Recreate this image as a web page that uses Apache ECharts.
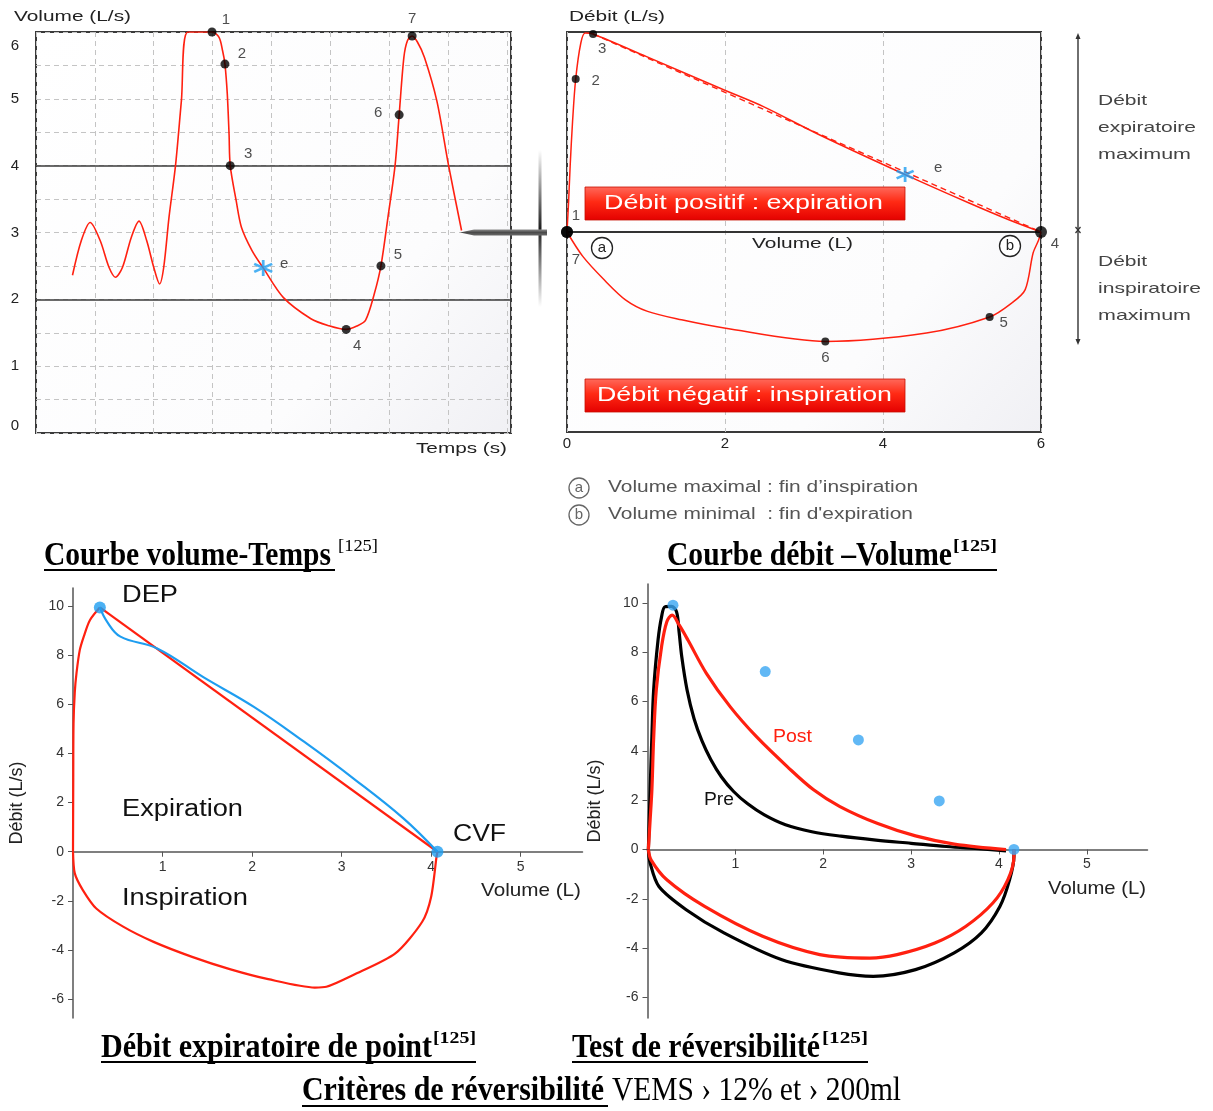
<!DOCTYPE html>
<html><head><meta charset="utf-8">
<script src="https://cdn.jsdelivr.net/npm/echarts@6/dist/echarts.min.js"></script>
<style>html,body{margin:0;padding:0;background:#fff}#chart{width:1213px;height:1111px}</style>
</head><body><div id="chart"></div>
<script>
// ================= DATA =================
// Panel 1 : Courbe volume-Temps  (x = temps, y = volume)
const vtCurve = [[0.62,2.36],[0.77,2.88],[0.92,3.15],[1.09,2.88],[1.24,2.48],[1.35,2.33],[1.47,2.48],[1.62,2.93],[1.75,3.17],[1.88,2.88],[2.0,2.48],[2.10,2.23],[2.17,2.48],[2.26,3.23],[2.37,4.0],[2.47,4.97],[2.58,6.0],[2.99,6.0],[3.11,5.92],[3.17,5.72],[3.21,5.52],[3.25,5.07],[3.28,4.47],[3.30,4.0],[3.40,3.48],[3.49,3.08],[3.67,2.73],[3.86,2.47],[4.20,2.03],[4.67,1.71],[4.96,1.61],[5.27,1.55],[5.45,1.6],[5.60,1.69],[5.75,2.09],[5.86,2.5],[5.98,3.23],[6.10,4.0],[6.17,4.76],[6.25,5.62],[6.31,5.87],[6.39,5.94],[6.48,5.85],[6.60,5.62],[6.81,4.97],[7.01,4.0],[7.23,3.03]];
const vtPoints = [[2.99,6.0],[3.21,5.52],[3.30,4.0],[5.27,1.55],[5.86,2.5],[6.17,4.76],[6.39,5.94]];
const vtPointLabels = ['1','2','3','4','5','6','7'];
const vtStar = [[3.86,2.47]];
const vtYTicks = [0,1,2,3,4,5,6];
const vtRefLines = [2,4];

// Panel 2 : Courbe débit-Volume
const fvExp = [[0,0],[0.02,1.5],[0.04,3.3],[0.07,5.5],[0.11,7.65],[0.175,9.45],[0.23,9.95],[0.33,9.9],[1.0,8.78],[1.99,7.1],[2.48,6.28],[3.2,4.85],[4.28,2.87],[5.09,1.45],[5.6,0.6],[6,0]];
const fvInsp = [[6,0],[5.97,-0.4],[5.9,-1.05],[5.8,-2.88],[5.63,-3.55],[5.35,-4.25],[4.55,-5.05],[3.27,-5.47],[1.99,-4.8],[1.45,-4.39],[1.02,-3.97],[0.74,-3.39],[0.47,-2.39],[0.2,-1.22],[0,0]];
const fvDashed = [[0.33,9.9],[6,0]];
const fvPoints = [[0,0],[0.11,7.65],[0.33,9.9],[6,0],[5.35,-4.25],[3.27,-5.47],[0,0]];
const fvPointLabels = ['1','2','3','4','5','6','7'];
const fvStar = [[4.28,2.87]];
const fvXTicks = [0,2,4,6];

// Panel 3 : Débit expiratoire de pointe
const depRise = [[0,0],[0.003,3],[0.006,5.2],[0.02,6.5],[0.04,7.3],[0.075,8.2],[0.12,8.76],[0.19,9.44],[0.30,9.95]];
const depStraight = [[0.30,9.95],[4.07,0]];
const depBlue = [[0.30,9.95],[0.38,9.37],[0.53,8.76],[0.94,8.28],[1.46,7.1],[2.02,5.9],[2.58,4.48],[3.13,2.99],[3.69,1.36],[4.07,0]];
const depInsp = [[4.07,0],[4.06,-0.2],[4.0,-1.83],[3.9,-2.85],[3.6,-4.14],[3.13,-5.02],[2.83,-5.5],[2.70,-5.53],[2.18,-5.19],[1.76,-4.79],[1.33,-4.28],[0.9,-3.67],[0.56,-3.05],[0.26,-2.31],[0.11,-1.56],[0.02,-0.88],[0,0]];
const depDots = [[0.30,9.95],[4.07,0]];

// Panel 4 : Test de réversibilité
const revPreExp = [[0.01,0],[0.02,1.2],[0.03,2.42],[0.05,4.6],[0.07,6.47],[0.12,8.49],[0.16,9.43],[0.2,9.84],[0.27,9.85],[0.33,9.64],[0.36,8.8],[0.39,7.81],[0.45,6.47],[0.53,5.3],[0.62,4.4],[0.72,3.65],[0.84,2.95],[0.98,2.35],[1.14,1.85],[1.33,1.4],[1.57,1.0],[1.87,0.72],[2.2,0.54],[2.6,0.38],[3.0,0.25],[3.4,0.12],[3.8,0.02],[4.08,-0.06]];
const revPreInsp = [[4.17,0],[4.17,-0.28],[4.12,-1.23],[4.01,-2.31],[3.8,-3.38],[3.49,-4.19],[3.05,-4.87],[2.57,-5.14],[2.18,-5.0],[1.53,-4.47],[0.87,-3.38],[0.44,-2.44],[0.13,-1.5],[0.03,-0.55],[0.01,0]];
const revPostExp = [[0.01,0],[0.03,1.2],[0.05,2.42],[0.07,4.5],[0.1,6.47],[0.16,8.22],[0.22,9.23],[0.28,9.5],[0.36,9.1],[0.46,8.49],[0.67,7.14],[0.94,5.79],[1.24,4.57],[1.59,3.36],[1.89,2.42],[2.19,1.74],[2.62,1.05],[3.05,0.55],[3.49,0.22],[4.08,0]];
const revPostInsp = [[4.17,0],[4.17,-0.28],[4.1,-1.23],[3.93,-2.17],[3.62,-3.12],[3.27,-3.79],[2.84,-4.26],[2.53,-4.4],[1.96,-4.26],[1.31,-3.52],[0.65,-2.31],[0.22,-1.23],[0.04,-0.42],[0.01,0]];
const revDots = [[0.29,9.9],[1.34,7.21],[2.4,4.44],[3.32,1.97],[4.17,0]];

const bottomYTicks = [-6,-4,-2,0,2,4,6,8,10];
const bottomXTicks = [1,2,3,4,5];

// ================= LAYOUT / STYLE =================
const FONT = 'Liberation Sans';
const SERIF = 'Liberation Serif';
const RED = '#ff2010';
const BLUE = '#1e9df0';
const mctx = document.createElement('canvas').getContext('2d');
function txt(str, left, cy, size, width, opt) {
  opt = opt || {};
  const font = (opt.style || 'normal') + ' ' + (opt.weight || 'normal') + ' ' + size + 'px "' + (opt.family || FONT) + '"';
  mctx.font = font;
  const w = mctx.measureText(str).width;
  const sx = width ? width / w : (opt.sx || 1);
  return { type: 'text', x: left, y: cy, scaleX: sx, silent: true, z: 100,
    style: { text: str, font: font, fill: opt.color || '#222', align: 'left', verticalAlign: 'middle' } };
}
function hline(x1, x2, y, w, color) {
  return { type: 'line', silent: true, z: 100, shape: { x1: x1, y1: y, x2: x2, y2: y }, style: { stroke: color || '#000', lineWidth: w || 2 } };
}
function circLetter(cx, cy, r, ch, color) {
  return [
    { type: 'circle', silent: true, z: 100, shape: { cx: cx, cy: cy, r: r }, style: { fill: '#fff', stroke: color, lineWidth: 1.3 } },
    { type: 'text', silent: true, z: 101, x: cx, y: cy, style: { text: ch, font: '15px "' + FONT + '"', fill: color, align: 'center', verticalAlign: 'middle' } }
  ];
}
function redBox(x, y, w, h, label, tl, tw) {
  return [
    { type: 'rect', silent: true, z: 90, shape: { x: x, y: y, width: w, height: h },
      style: { fill: new echarts.graphic.LinearGradient(0, 0, 0, 1, [
        { offset: 0, color: '#ff6a5c' }, { offset: 0.45, color: '#ff2a14' }, { offset: 1, color: '#e40000' }]),
        stroke: '#c81000', lineWidth: 0.8 } },
    txt(label, tl, y + h / 2, 21, tw, { color: '#fff' })
  ];
}
const panelBg = new echarts.graphic.LinearGradient(0, 0, 1, 1, [
  { offset: 0, color: '#ffffff' }, { offset: 0.7, color: '#fcfcfd' }, { offset: 1, color: '#f0f0f4' }]);
const asterisk = 'path://M0,-10L0,10M-8.66,-5L8.66,5M-8.66,5L8.66,-5';

const vtLabelOffsets = [[14,-12],[17,-10],[18,-12],[11,16],[17,-11],[-21,-2],[0,-17]];
const fvLabelOffsets = [[9,-16],[20,2],[9,15],[14,12],[14,6],[0,16],[9,28]];
const fvPointSizes = [12,8,8,12,8,8,12];

function pointItems(pts, names, offs, sizes) {
  return pts.map((p, i) => ({ value: p, name: names[i], symbolSize: sizes ? sizes[i] : 9, label: { offset: offs[i] } }));
}
const pointLabel = { show: true, position: 'inside', formatter: '{b}', fontSize: 15, color: '#222', fontFamily: FONT };

const graphics = [];
// top axis titles
graphics.push(txt('Volume (L/s)', 14, 17, 15, 117, { color: '#222' }));
graphics.push(txt('Temps (s)', 416, 449, 15, 91, { color: '#222' }));
graphics.push(txt('Débit (L/s)', 569, 17, 15, 96, { color: '#222' }));
graphics.push(txt('Volume (L)', 752, 244, 15, 101, { color: '#222' }));
// circled letters in panel 2
graphics.push(...circLetter(602, 248, 10.5, 'a', '#222'));
graphics.push(...circLetter(1010, 246, 10.5, 'b', '#222'));
// red boxes
graphics.push(...redBox(585, 187, 320, 33, 'Débit positif : expiration', 604, 279));
graphics.push(...redBox(585, 379, 320, 33, 'Débit négatif : inspiration', 597, 295));
// connector between panels
graphics.push({ type: 'rect', silent: true, z: 95, shape: { x: 538.5, y: 150, width: 3, height: 157 },
  style: { fill: new echarts.graphic.LinearGradient(0, 0, 0, 1, [
    { offset: 0, color: 'rgba(40,40,40,0)' }, { offset: 0.5, color: 'rgba(30,30,30,1)' }, { offset: 1, color: 'rgba(40,40,40,0)' }]) } });
graphics.push({ type: 'polygon', silent: true, z: 96,
  shape: { points: [[460, 232.5], [474, 229.5], [547, 229.5], [547, 235.5], [474, 235.5]] },
  style: { fill: new echarts.graphic.LinearGradient(0, 0, 0, 1, [
    { offset: 0, color: '#8a8a8a' }, { offset: 0.5, color: '#4a4a4a' }, { offset: 1, color: '#6a6a6a' }]) } });
// right annotation
graphics.push({ type: 'line', silent: true, z: 100, shape: { x1: 1078, y1: 36, x2: 1078, y2: 342 }, style: { stroke: '#333', lineWidth: 1.4 } });
graphics.push({ type: 'polygon', silent: true, z: 100, shape: { points: [[1078, 33], [1075.5, 39], [1080.5, 39]] }, style: { fill: '#333' } });
graphics.push({ type: 'polygon', silent: true, z: 100, shape: { points: [[1078, 345], [1075.5, 339], [1080.5, 339]] }, style: { fill: '#333' } });
graphics.push({ type: 'polyline', silent: true, z: 100, shape: { points: [[1075.5, 227], [1080.5, 233]] }, style: { stroke: '#333', lineWidth: 1.2 } });
graphics.push({ type: 'polyline', silent: true, z: 100, shape: { points: [[1080.5, 227], [1075.5, 233]] }, style: { stroke: '#333', lineWidth: 1.2 } });
[['Débit', 101, 49], ['expiratoire', 128, 98], ['maximum', 155, 93], ['Débit', 262, 49], ['inspiratoire', 289, 103], ['maximum', 316, 93]]
  .forEach(a => graphics.push(txt(a[0], 1098, a[1], 15, a[2], { color: '#444' })));
// legend of a / b
graphics.push(...circLetter(579, 488, 10, 'a', '#666'));
graphics.push(...circLetter(579, 515, 10, 'b', '#666'));
graphics.push(txt('Volume maximal : fin d\u2019inspiration', 608, 488, 16, 310, { color: '#555' }));
graphics.push(txt('Volume minimal  : fin d\'expiration', 608, 515, 16, 305, { color: '#555' }));
// bottom panel texts
graphics.push(txt('DEP', 122, 596, 23, 56, { color: '#111' }));
graphics.push(txt('Expiration', 122, 810, 23, 121, { color: '#111' }));
graphics.push(txt('Inspiration', 122, 899, 23, 126, { color: '#111' }));
graphics.push(txt('CVF', 453, 835, 23, 53, { color: '#111' }));
graphics.push(txt('Volume (L)', 481, 891, 19, 100, { color: '#222' }));
graphics.push(txt('Post', 773, 737, 18, 39, { color: RED }));
graphics.push(txt('Pre', 704, 800, 18, 30, { color: '#111' }));
graphics.push(txt('Volume (L)', 1048, 889, 19, 98, { color: '#222' }));
// captions
const capOpt = { family: SERIF, weight: 'bold', color: '#000' };
graphics.push(txt('Courbe volume-Temps', 44, 556, 34, 287, capOpt));
graphics.push(txt('[125]', 338, 547, 16, 40, { family: SERIF, color: '#000' }));
graphics.push(hline(44, 335, 570, 2));
graphics.push(txt('Courbe débit \u2013Volume', 667, 556, 34, 285, capOpt));
graphics.push(txt('[125]', 953, 547, 16, 44, { family: SERIF, weight: 'bold', color: '#000' }));
graphics.push(hline(667, 997, 570, 2));
graphics.push(txt('Débit expiratoire de point', 101, 1048, 34, 331, capOpt));
graphics.push(txt('[125]', 433, 1039, 16, 43, { family: SERIF, weight: 'bold', color: '#000' }));
graphics.push(hline(101, 476, 1062, 2));
graphics.push(txt('Test de réversibilité', 572, 1048, 34, 248, capOpt));
graphics.push(txt('[125]', 822, 1039, 16, 46, { family: SERIF, weight: 'bold', color: '#000' }));
graphics.push(hline(572, 868, 1062, 2));
graphics.push(txt('Critères de réversibilité', 302, 1091, 34, 302, capOpt));
graphics.push(txt('VEMS \u203a 12% et \u203a 200ml', 612, 1091, 34, 289, { family: SERIF, color: '#000' }));
graphics.push(hline(302, 608, 1106, 2));

const bottomGrids = [
  { left: 73, top: 588, width: 509.5, height: 430, ymin: -6.77, ymax: 10.74 },
  { left: 647.5, top: 584, width: 500, height: 434, ymin: -6.83, ymax: 10.76 }
];
const bottomYAxis = (gi, g, gap) => ({
  gridIndex: gi, type: 'value', min: g.ymin, max: g.ymax,
  axisLine: { show: true, lineStyle: { color: '#555', width: 1.5 } },
  axisTick: { show: true, customValues: bottomYTicks, length: 5, lineStyle: { color: '#555' } },
  axisLabel: { customValues: bottomYTicks, fontSize: 14, color: '#333', margin: 9 },
  splitLine: { show: false },
  name: 'Débit (L/s)', nameLocation: 'middle', nameGap: gap, nameRotate: 90,
  nameTextStyle: { fontSize: 18, color: '#222' }
});
// x axis sits on flow = 0 : shift it up from the grid bottom by the zero position
const bottomXAxis = (gi, g) => ({
  gridIndex: gi, type: 'value', min: 0, max: 5.69, position: 'bottom',
  offset: -g.height * (0 - g.ymin) / (g.ymax - g.ymin),
  axisLine: { show: true, onZero: false, lineStyle: { color: '#555', width: 1.5 } },
  axisTick: { show: true, customValues: bottomXTicks, length: 5, lineStyle: { color: '#555' } },
  axisLabel: { customValues: bottomXTicks, fontSize: 14, color: '#333', margin: 8 },
  splitLine: { show: false }
});

const option = {
  animation: false,
  backgroundColor: '#ffffff',
  textStyle: { fontFamily: FONT },
  grid: [
    { left: 36, top: 32, width: 475, height: 401, show: true, borderColor: '#3a3a3a', borderWidth: 2, backgroundColor: panelBg },
    { left: 567, top: 32, width: 474, height: 400, show: true, borderColor: '#3a3a3a', borderWidth: 2, backgroundColor: panelBg },
    { left: bottomGrids[0].left, top: bottomGrids[0].top, width: bottomGrids[0].width, height: bottomGrids[0].height },
    { left: bottomGrids[1].left, top: bottomGrids[1].top, width: bottomGrids[1].width, height: bottomGrids[1].height }
  ],
  xAxis: [
    { gridIndex: 0, type: 'value', min: 0, max: 8.07, interval: 1,
      axisLine: { show: false }, axisTick: { show: false }, axisLabel: { show: false },
      splitLine: { show: true, lineStyle: { type: [5, 4], color: '#c4c4c4', width: 1 } } },
    { gridIndex: 1, type: 'value', min: 0, max: 6, interval: 2,
      axisLine: { show: false }, axisTick: { show: false },
      axisLabel: { show: true, customValues: fvXTicks, fontSize: 15, color: '#222', margin: 4 },
      splitLine: { show: true, lineStyle: { type: [5, 4], color: '#c4c4c4', width: 1 } } },
    bottomXAxis(2, bottomGrids[0]),
    bottomXAxis(3, bottomGrids[1])
  ],
  yAxis: [
    { gridIndex: 0, type: 'value', min: 0, max: 6, interval: 0.5,
      axisLine: { show: false }, axisTick: { show: false },
      axisLabel: { show: true, customValues: vtYTicks, fontSize: 15, color: '#222', margin: 17,
        verticalAlignMaxLabel: 'top', verticalAlignMinLabel: 'bottom',
        formatter: v => (v === 6 ? '{t|6}' : String(v)),
        rich: { t: { fontSize: 15, color: '#222', padding: [6, 0, 0, 0] } } },
      splitLine: { show: true, lineStyle: { type: [5, 4], color: '#c4c4c4', width: 1 } } },
    { gridIndex: 1, type: 'value', min: -10, max: 10,
      axisLine: { show: false }, axisTick: { show: false }, axisLabel: { show: false }, splitLine: { show: false } },
    bottomYAxis(2, bottomGrids[0], 47),
    bottomYAxis(3, bottomGrids[1], 43)
  ],
  series: [
    // ---- panel 1
    { type: 'line', xAxisIndex: 0, yAxisIndex: 0, data: vtCurve, smooth: 0.3, symbol: 'none',
      lineStyle: { color: RED, width: 1.6 }, z: 5,
      markLine: { silent: true, symbol: ['none', 'none'], label: { show: false },
        lineStyle: { color: '#3a3a3a', width: 1.5, type: 'solid' }, emphasis: { disabled: true },
        data: vtRefLines.map(v => ({ yAxis: v })) } },
    { type: 'scatter', xAxisIndex: 0, yAxisIndex: 0, z: 6,
      data: pointItems(vtPoints, vtPointLabels, vtLabelOffsets),
      itemStyle: { color: '#000' }, label: pointLabel },
    { type: 'scatter', xAxisIndex: 0, yAxisIndex: 0, z: 7, symbol: asterisk, symbolSize: [18, 16],
      data: vtStar.map(p => ({ value: p, name: 'e', label: { offset: [21, -4] } })),
      itemStyle: { color: 'none', borderColor: BLUE, borderWidth: 2.6 }, label: pointLabel },
    // ---- panel 2
    { type: 'line', xAxisIndex: 1, yAxisIndex: 1, data: fvExp, smooth: 0.3, symbol: 'none',
      lineStyle: { color: RED, width: 1.5 }, z: 5,
      markLine: { silent: true, symbol: ['none', 'none'], label: { show: false },
        lineStyle: { color: '#333', width: 2, type: 'solid' }, emphasis: { disabled: true },
        data: [{ yAxis: 0 }] } },
    { type: 'line', xAxisIndex: 1, yAxisIndex: 1, data: fvInsp, smooth: 0.3, symbol: 'none',
      lineStyle: { color: RED, width: 1.5 }, z: 5 },
    { type: 'line', xAxisIndex: 1, yAxisIndex: 1, data: fvDashed, symbol: 'none',
      lineStyle: { color: RED, width: 1.4, type: [6, 4] }, z: 5 },
    { type: 'scatter', xAxisIndex: 1, yAxisIndex: 1, z: 6,
      data: pointItems(fvPoints, fvPointLabels, fvLabelOffsets, fvPointSizes),
      itemStyle: { color: '#000' }, label: pointLabel },
    { type: 'scatter', xAxisIndex: 1, yAxisIndex: 1, z: 7, symbol: asterisk, symbolSize: [17, 15],
      data: fvStar.map(p => ({ value: p, name: 'e', label: { offset: [33, -7] } })),
      itemStyle: { color: 'none', borderColor: BLUE, borderWidth: 2.6 }, label: pointLabel },
    // ---- panel 3
    { type: 'line', xAxisIndex: 2, yAxisIndex: 2, data: depRise, smooth: 0.3, symbol: 'none', lineStyle: { color: RED, width: 2.2 }, z: 5 },
    { type: 'line', xAxisIndex: 2, yAxisIndex: 2, data: depStraight, symbol: 'none', lineStyle: { color: RED, width: 2.2 }, z: 5 },
    { type: 'line', xAxisIndex: 2, yAxisIndex: 2, data: depInsp, smooth: 0.25, symbol: 'none', lineStyle: { color: RED, width: 2.2 }, z: 5 },
    { type: 'line', xAxisIndex: 2, yAxisIndex: 2, data: depBlue, smooth: 0.4, symbol: 'none', lineStyle: { color: BLUE, width: 2.2 }, z: 6 },
    { type: 'scatter', xAxisIndex: 2, yAxisIndex: 2, data: depDots, symbolSize: 12, itemStyle: { color: BLUE }, z: 7 },
    // ---- panel 4
    { type: 'line', xAxisIndex: 3, yAxisIndex: 3, data: revPreExp, smooth: 0.35, symbol: 'none', lineStyle: { color: '#000', width: 3.2 }, z: 5 },
    { type: 'line', xAxisIndex: 3, yAxisIndex: 3, data: revPreInsp, smooth: 0.3, symbol: 'none', lineStyle: { color: '#000', width: 3.2 }, z: 5 },
    { type: 'line', xAxisIndex: 3, yAxisIndex: 3, data: revPostExp, smooth: 0.35, symbol: 'none', lineStyle: { color: RED, width: 3.2 }, z: 6 },
    { type: 'line', xAxisIndex: 3, yAxisIndex: 3, data: revPostInsp, smooth: 0.3, symbol: 'none', lineStyle: { color: RED, width: 3.2 }, z: 6 },
    { type: 'scatter', xAxisIndex: 3, yAxisIndex: 3, data: revDots, symbolSize: 11, itemStyle: { color: '#3aa6f2' }, z: 7 }
  ],
  graphic: graphics
};
const chart = echarts.init(document.getElementById('chart'), null, { renderer: 'canvas' });
chart.setOption(option);
</script>
</body></html>
